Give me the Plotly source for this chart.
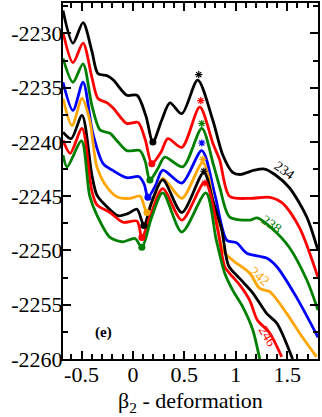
import plotly.graph_objects as go

# beta2 deformation vs energy, isotopes 234..248 (step 2)
x234 = [-0.68, -0.583, -0.485, -0.40, -0.34, -0.25, -0.19, -0.06, 0.04, 0.126, 0.194, 0.28, 0.36, 0.476, 0.63, 0.777, 0.874, 0.97, 1.04, 1.18, 1.28, 1.38, 1.52, 1.69, 1.80]
y234 = [-2227.9, -2230.9, -2229.0, -2231.6, -2233.7, -2233.9, -2234.3, -2235.7, -2235.7, -2237.6, -2240.0, -2238.0, -2236.4, -2237.4, -2234.3, -2238.0, -2241.2, -2242.8, -2243.0, -2242.6, -2242.5, -2243.0, -2244.2, -2246.9, -2250.0]

x236 = [-0.68, -0.583, -0.485, -0.40, -0.34, -0.25, -0.19, -0.06, 0.05, 0.12, 0.184, 0.27, 0.34, 0.476, 0.65, 0.78, 0.845, 0.94, 1.14, 1.33, 1.456, 1.62, 1.80]
y236 = [-2229.9, -2232.7, -2230.9, -2234.0, -2236.0, -2236.4, -2236.9, -2238.3, -2238.2, -2239.8, -2242.0, -2241.0, -2239.7, -2240.5, -2236.8, -2240.2, -2241.7, -2245.0, -2245.2, -2245.1, -2245.65, -2247.9, -2252.5]

x238 = [-0.68, -0.583, -0.485, -0.40, -0.32, -0.223, -0.155, -0.06, 0.068, 0.12, 0.165, 0.24, 0.31, 0.485, 0.67, 0.78, 0.845, 0.94, 1.136, 1.21, 1.35, 1.52, 1.69, 1.80]
y238 = [-2232.3, -2234.5, -2232.8, -2236.6, -2238.9, -2239.2, -2239.9, -2240.8, -2240.8, -2241.8, -2243.5, -2242.5, -2241.4, -2242.3, -2238.75, -2242.0, -2244.2, -2246.9, -2247.2, -2247.0, -2247.95, -2249.7, -2252.7, -2255.5]

x240 = [-0.68, -0.583, -0.485, -0.39, -0.29, -0.20, -0.06, 0.06, 0.11, 0.146, 0.22, 0.29, 0.476, 0.67, 0.80, 0.913, 1.01, 1.107, 1.30, 1.40, 1.59, 1.80]
y240 = [-2234.5, -2237.1, -2234.5, -2239.2, -2242.0, -2242.6, -2243.3, -2243.2, -2243.9, -2245.1, -2244.0, -2242.6, -2243.8, -2240.8, -2245.0, -2249.05, -2249.3, -2250.25, -2250.7, -2251.5, -2254.3, -2258.0]

x242 = [-0.68, -0.592, -0.495, -0.42, -0.35, -0.25, -0.146, -0.03, 0.07, 0.136, 0.21, 0.29, 0.476, 0.68, 0.80, 0.874, 0.97, 1.136, 1.233, 1.33, 1.495, 1.62, 1.786]
y242 = [-2236.0, -2238.5, -2236.0, -2238.0, -2242.3, -2244.2, -2245.1, -2245.2, -2245.0, -2246.5, -2245.0, -2243.35, -2245.2, -2241.9, -2246.5, -2250.0, -2250.9, -2252.1, -2253.5, -2253.8, -2255.8, -2257.6, -2259.8]

x244 = [-0.68, -0.60, -0.495, -0.40, -0.35, -0.25, -0.146, -0.05, 0.04, 0.107, 0.18, 0.29, 0.476, 0.69, 0.777, 0.864, 0.93, 1.04, 1.165, 1.30, 1.40, 1.553]
y244 = [-2239.1, -2239.7, -2237.55, -2243.0, -2244.9, -2246.0, -2246.8, -2246.6, -2246.2, -2247.7, -2245.6, -2243.5, -2246.5, -2242.8, -2245.4, -2248.1, -2251.4, -2252.6, -2253.9, -2255.8, -2256.7, -2260.0]

x246 = [-0.68, -0.61, -0.495, -0.40, -0.35, -0.223, -0.097, 0.04, 0.087, 0.18, 0.29, 0.476, 0.70, 0.825, 0.893, 0.94, 1.04, 1.136, 1.21, 1.33, 1.447]
y246 = [-2239.85, -2241.05, -2238.75, -2244.5, -2245.8, -2246.5, -2247.4, -2247.3, -2248.8, -2246.5, -2244.3, -2247.2, -2243.7, -2248.1, -2251.5, -2252.1, -2253.2, -2254.6, -2256.4, -2257.6, -2259.8]

x248 = [-0.68, -0.64, -0.50, -0.42, -0.35, -0.223, -0.097, 0.02, 0.087, 0.18, 0.29, 0.476, 0.71, 0.81, 0.893, 0.97, 1.068, 1.165, 1.233]
y248 = [-2241.2, -2242.3, -2239.9, -2245.0, -2246.75, -2248.8, -2249.2, -2248.9, -2249.7, -2247.0, -2244.7, -2248.3, -2244.7, -2249.0, -2252.1, -2253.65, -2255.2, -2257.3, -2260.0]

curves_x = [x234, x236, x238, x240, x242, x244, x246, x248]
curves_y = [y234, y236, y238, y240, y242, y244, y246, y248]
colors = ["black", "red", "green", "blue", "orange", "black", "red", "green"]

# minima (dots) and barrier tops (stars)
min_x = [0.194, 0.184, 0.165, 0.146, 0.136, 0.107, 0.087, 0.087]
min_y = [-2240.0, -2242.0, -2243.5, -2245.1, -2246.5, -2247.7, -2248.8, -2249.7]
star_x = [0.64, 0.66, 0.67, 0.67, 0.68, 0.69, 0.70]
star_y = [-2233.8, -2236.2, -2238.3, -2240.1, -2241.6, -2242.7, -2243.8]

lab_text = ["234", "238", "242", "246"]
lab_x = [1.476, 1.35, 1.233, 1.31]
lab_y = [-2242.6, -2247.6, -2252.4, -2257.9]
lab_col = ["black", "green", "orange", "red"]
lab_ang = [35, 35, 40, 60]

xt_vals = [-0.5, 0, 0.5, 1, 1.5]
xt_text = ["-0.5", "0", "0.5", "1", "1.5"]
yt_vals = [-2260, -2255, -2250, -2245, -2240, -2235, -2230]
yt_text = ["-2260", "-2255", "-2250", "-2245", "-2240", "-2235", "-2230"]

serif = "Liberation Serif, Times New Roman, serif"

fig = go.Figure()
for cx, cy, c in zip(curves_x, curves_y, colors):
    fig.add_trace(go.Scatter(x=cx, y=cy, mode="lines", line=dict(color=c, width=2.8, shape="spline", smoothing=0.8)))

fig.add_trace(go.Scatter(x=min_x, y=min_y, mode="markers",
                         marker=dict(color=colors, size=7, symbol="circle")))
fig.add_trace(go.Scatter(x=star_x, y=star_y, mode="markers",
                         marker=dict(size=6, symbol="asterisk-open", color=colors[:7],
                                     line=dict(width=1.2))))

for t, lx, ly, c, a in zip(lab_text, lab_x, lab_y, lab_col, lab_ang):
    fig.add_annotation(x=lx, y=ly, text=t, showarrow=False, textangle=a,
                       font=dict(family=serif, size=14, color=c))

fig.add_annotation(x=-0.29, y=-2257.6, text="<b>(e)</b>", showarrow=False,
                   font=dict(family=serif, size=15, color="black"))

# x axis title placed by hand, just under the tick labels
fig.add_annotation(xref="paper", yref="paper", x=0.5, y=-0.12, yanchor="middle",
                   text="β<sub>2</sub> - deformation", showarrow=False,
                   font=dict(family=serif, size=22, color="black"))

axis_common = dict(showline=True, linecolor="black", linewidth=2, mirror="allticks",
                   ticks="inside", ticklen=8, tickwidth=2, tickcolor="black",
                   showgrid=False, zeroline=False, automargin=False,
                   tickfont=dict(family=serif, size=22, color="black"))

fig.update_xaxes(range=[-0.68, 1.80], tickmode="array", tickvals=xt_vals, ticktext=xt_text,
                 minor=dict(tickmode="linear", tick0=0, dtick=0.1, ticks="inside", ticklen=5,
                            tickwidth=2, tickcolor="black"),
                 ticklabelstandoff=-5,
                 **axis_common)
fig.update_yaxes(range=[-2260, -2227.2], tickmode="array", tickvals=yt_vals, ticktext=yt_text,
                 minor=dict(tickmode="linear", tick0=-2260, dtick=2.5, ticks="inside", ticklen=5,
                            tickwidth=2, tickcolor="black"),
                 ticklabelstandoff=-6,
                 **axis_common)

fig.update_layout(width=322, height=417, margin=dict(l=63, r=4, t=3, b=58),
                  plot_bgcolor="white", paper_bgcolor="white", showlegend=False)

# page body has a default 8px margin; drop it so the figure sits at 0,0
fig.write_html("out.html", config={"displayModeBar": False},
               post_script="document.body.style.margin='0';")
